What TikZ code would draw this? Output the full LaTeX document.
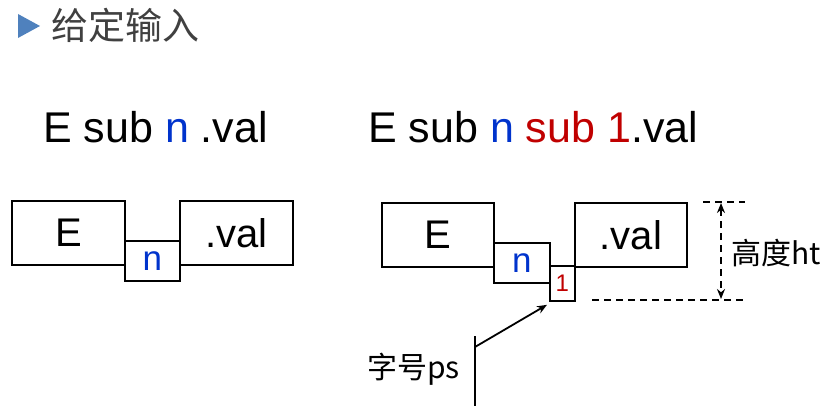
\documentclass[tikz,border=0pt]{standalone}
\usepackage{fontspec}
\setmainfont{Liberation Sans}
\newfontfamily\cjkfont{Noto Sans CJK SC}
\usetikzlibrary{arrows.meta}
\definecolor{nblue}{RGB}{0,51,204}
\definecolor{sred}{RGB}{192,0,0}
\definecolor{hgray}{RGB}{64,64,64}
\definecolor{tri}{RGB}{79,129,189}
\newcommand{\fsz}[1]{\fontsize{#1}{#1}\selectfont}
\tikzset{
  box/.style={draw, line width=1.8pt, inner sep=0pt, anchor=north west},
  bigbox/.style={box, minimum width=113pt, minimum height=64pt, font=\fsz{40pt}},
  midbox/.style={box, minimum width=55pt, minimum height=40pt, font=\fsz{35pt}, text=nblue},
  tinybox/.style={box, minimum width=25pt, minimum height=35pt, font=\fsz{24pt}, text=sred},
  title/.style={font=\fsz{43pt}, inner sep=0pt, anchor=west},
  lab/.style={font=\cjkfont\fsz{30pt}, inner sep=0pt},
  guide/.style={line width=1.8pt, dash pattern=on 7pt off 5pt},
  pointer/.style={line width=1.8pt, -{Stealth[length=10pt,width=8pt]}}
}
\begin{document}
\begin{tikzpicture}[x=1pt,y=-1pt]
\useasboundingbox (0,0) rectangle (837,406);
% header
\fill[tri] (18,14) -- (40,26) -- (18,38) -- cycle;
\node[font=\cjkfont\fsz{37pt}, text=hgray, inner sep=0pt, anchor=west] (head) at (51,25) {给定输入};
% titles
\node[title] (t1) at (43,127) {E sub \textcolor{nblue}{n} .val};
\node[title] (t2) at (368,127) {E sub \textcolor{nblue}{n} \textcolor{sred}{sub 1}.val};
% left diagram
\node[bigbox] (E1) at (11,200) {E};
\node[midbox] (n1) at (124,240) {n};
\node[bigbox] (v1) at (179,200) {.val};
% right diagram
\node[bigbox, minimum width=112pt] (E2) at (381,202) {E};
\node[midbox, minimum width=56pt] (n2) at (493,242) {n};
\node[tinybox] (o2) at (549,265) {1};
\node[bigbox, minimum width=112pt] (v2) at (574,202) {.val};
% height guides
\coordinate (ta) at (703,202);
\coordinate (tb) at (745,202);
\coordinate (ba) at (592,300);
\coordinate (bb) at (745,300);
\draw[guide] (ta) -- (tb);
\draw[guide] (ba) -- (bb);
\coordinate (hu) at (721,203);
\coordinate (hd) at (721,299);
\draw[guide, {Stealth[length=10pt,width=8pt]}-{Stealth[length=10pt,width=8pt]}] (hu) -- (hd);
\node[lab, anchor=west] (ht) at (731,253) {高度ht};
% font size pointer
\coordinate (ps0) at (475,347);
\coordinate (vtop) at (475,336);
\coordinate (vbot) at (475,406);
\draw[line width=1.8pt] (vtop) -- (vbot);
\draw[pointer] (ps0) -- ([xshift=-2pt,yshift=-3pt]o2.south west);
\node[lab, anchor=east] (ps) at (460,369) {字号ps};
\end{tikzpicture}
\end{document}
